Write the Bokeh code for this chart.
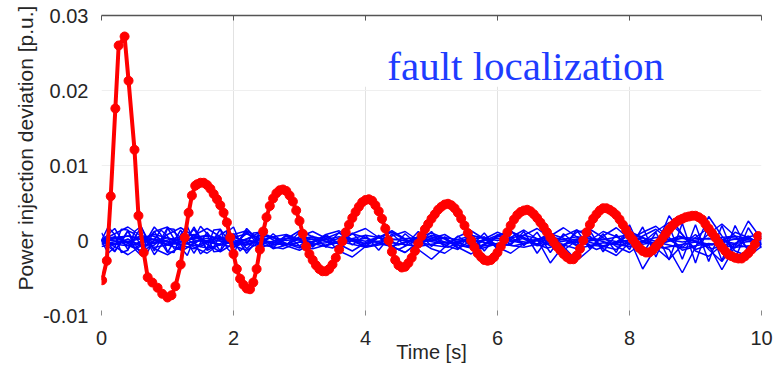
import numpy as np
from bokeh.plotting import figure
from bokeh.models import Range1d, FixedTicker, LinearAxis, Label, BoxAnnotation
from bokeh.embed import file_html
from bokeh.resources import INLINE

# ---- red trace: deviation at the faulted bus ----
# first swing, irregular sample times
red_time_start = [0.01, 0.08, 0.14, 0.21, 0.26, 0.35, 0.41, 0.50, 0.56, 0.64, 0.70,
                  0.77, 0.85, 0.92, 1.00, 1.06, 1.12, 1.20, 1.26, 1.32, 1.37, 1.42]
red_dev_start = [-0.0053, -0.0027, 0.0059, 0.0176, 0.0260, 0.0272, 0.0213, 0.0121,
                 0.0033, -0.0016, -0.0049, -0.0056, -0.0063, -0.0071, -0.0076,
                 -0.0073, -0.0061, -0.0032, 0.0004, 0.0037, 0.0060, 0.0073]
# remaining oscillation, sampled every 0.05 s from 1.45 s
red_step = 0.05
red_t0 = 1.45
red_dev_tail = [
    0.0075, 0.0077, 0.0077, 0.0074, 0.0069, 0.0062, 0.0055, 0.0047, 0.0037, 0.0024,
    0.0004, -0.0018, -0.0038, -0.0051, -0.0059, -0.0064, -0.0065, -0.0056, -0.0038, -0.0012,
    0.0012, 0.0031, 0.0046, 0.0056, 0.0063, 0.0067, 0.0068, 0.0066, 0.0060, 0.0052,
    0.0040, 0.0026, 0.0009, -0.0008, -0.0018, -0.0026, -0.0033, -0.0038, -0.0041, -0.0041,
    -0.0038, -0.0032, -0.0023, -0.0012, -0.0001, 0.0011, 0.0021, 0.0030, 0.0038, 0.0045,
    0.0051, 0.0054, 0.0055, 0.0053, 0.0047, 0.0039, 0.0029, 0.0016, 0.0000, -0.0015,
    -0.0026, -0.0033, -0.0036, -0.0035, -0.0030, -0.0023, -0.0014, -0.0004, 0.0006, 0.0015,
    0.0022, 0.0029, 0.0035, 0.0041, 0.0045, 0.0048, 0.0049, 0.0047, 0.0043, 0.0037,
    0.0029, 0.0020, 0.0010, 0.0000, -0.0009, -0.0017, -0.0022, -0.0026, -0.0027, -0.0026,
    -0.0022, -0.0016, -0.0008, 0.0001, 0.0011, 0.0020, 0.0028, 0.0034, 0.0038, 0.0040,
    0.0041, 0.0039, 0.0035, 0.0030, 0.0024, 0.0018, 0.0011, 0.0004, -0.0002, -0.0008,
    -0.0013, -0.0018, -0.0022, -0.0025, -0.0025, -0.0020, -0.0011, 0.0000, 0.0011, 0.0021,
    0.0029, 0.0035, 0.0040, 0.0043, 0.0043, 0.0041, 0.0038, 0.0034, 0.0028, 0.0021,
    0.0014, 0.0007, 0.0001, -0.0005, -0.0010, -0.0014, -0.0016, -0.0016, -0.0013, -0.0008,
    -0.0003, 0.0003, 0.0009, 0.0015, 0.0020, 0.0024, 0.0027, 0.0029, 0.0031, 0.0032,
    0.0033, 0.0033, 0.0031, 0.0028, 0.0022, 0.0016, 0.0010, 0.0004, -0.0003, -0.0009,
    -0.0014, -0.0019, -0.0021, -0.0023, -0.0024, -0.0024, -0.0021, -0.0017, -0.0012, -0.0005,
    0.0006]

# ---- blue traces: deviations at the other buses ----
# full-length traces, evenly sampled over 0..10 s
blue_a = [0.0, 0.0016, -0.0012, 0.0018, -0.0014, 0.0017, -0.0013, 0.0018, -0.0012,
          0.0015, -0.0010, 0.0012, -0.0008, 0.0009, -0.0006, 0.0011, -0.0009, 0.0008,
          -0.0005, 0.0010, -0.0008, 0.0007, -0.0011, 0.0009, -0.0006, 0.0012, -0.0009,
          0.0006, -0.0008, 0.0010, -0.0012, 0.0014, -0.0007, 0.0011, -0.0016, 0.0009,
          -0.0006, 0.0013, -0.0015, 0.0008, -0.0012, 0.0018, -0.0022, 0.0019, -0.0025,
          0.0021, -0.0028, 0.0020, -0.0024, 0.0017, -0.0010]
blue_b = [0.0, -0.0015, 0.0013, -0.0019, 0.0012, -0.0016, 0.0014, -0.0017, 0.0011,
          -0.0014, 0.0009, -0.0011, 0.0007, -0.0010, 0.0008, -0.0007, 0.0006, -0.0009,
          0.0011, -0.0006, 0.0007, -0.0013, 0.0009, -0.0007, 0.0012, -0.0008, 0.0005,
          -0.0011, 0.0009, -0.0014, 0.0008, -0.0006, 0.0012, -0.0017, 0.0007, -0.0009,
          0.0014, -0.0011, 0.0009, -0.0016, 0.0021, -0.0018, 0.0011, -0.0026, 0.0023,
          -0.0030, 0.0022, -0.0027, 0.0020, -0.0015, 0.0006]
blue_c = [0.0002, 0.0006, -0.0004, 0.0005, -0.0003, 0.0004, -0.0005, 0.0003, -0.0002,
          0.0005, -0.0004, 0.0002, -0.0003, 0.0004, -0.0002, 0.0003, -0.0004, 0.0005,
          -0.0003, 0.0002, -0.0005, 0.0004, -0.0002, 0.0003, -0.0004, 0.0001]
blue_d = [-0.0003, -0.0007, 0.0002, -0.0006, 0.0003, -0.0005, 0.0001, -0.0006, 0.0002,
          -0.0004, 0.0003, -0.0007, 0.0002, -0.0005, 0.0001, -0.0006, 0.0003, -0.0004,
          0.0002, -0.0007, 0.0001, -0.0005, 0.0003, -0.0006, 0.0002, -0.0004]
blue_e = [0.0001, -0.0002, 0.0008, -0.0001, 0.0006, -0.0003, 0.0007, 0.0, 0.0005,
          -0.0002, 0.0007, 0.0001, 0.0004, -0.0003, 0.0006, 0.0, 0.0007, -0.0002,
          0.0005, 0.0001, 0.0008, -0.0001, 0.0004, 0.0002, 0.0006, -0.0001]
blue_f = [-0.0008, -0.0001, -0.0009, -0.0003, -0.0010, -0.0002, -0.0008, -0.0004,
          -0.0011, -0.0001, -0.0009, -0.0003, -0.0008, -0.0002, -0.0010, -0.0004,
          -0.0009, -0.0001, -0.0011, -0.0003, -0.0008, -0.0002, -0.0010, -0.0004,
          -0.0009, -0.0006]
blue_g = [0.0, 0.0004, -0.0006, 0.0007, -0.0002, 0.0003, -0.0008, 0.0005, 0.0001,
          -0.0004, 0.0006, -0.0007, 0.0002, 0.0004, -0.0005, 0.0003, -0.0001, 0.0006,
          -0.0006, 0.0002, 0.0005, -0.0004, 0.0001, -0.0007, 0.0006, 0.0, -0.0003,
          0.0005, -0.0006, 0.0003, 0.0001, -0.0005, 0.0007, -0.0002, -0.0004, 0.0006,
          -0.0001, -0.0006, 0.0004, 0.0002, -0.0003]
blue_h = [-0.0005, -0.0001, -0.0010, 0.0002, -0.0006, -0.0012, 0.0001, -0.0004,
          -0.0009, 0.0, -0.0007, -0.0011, -0.0002, -0.0005, -0.0010, 0.0001, -0.0008,
          -0.0003, -0.0012, -0.0001, -0.0006, -0.0009, 0.0, -0.0011, -0.0004, -0.0007,
          -0.0002, -0.0010, -0.0005, -0.0001, -0.0012, -0.0003, -0.0008, 0.0, -0.0010,
          -0.0006, -0.0002, -0.0011, -0.0004, -0.0008, -0.0005]
blue_i = [0.0, 0.0009, 0.0018, 0.0006, -0.0011, -0.0019, -0.0008, 0.0007, 0.0016,
          0.0005, -0.0006, 0.0002, 0.0011, 0.0004, -0.0007, -0.0013, -0.0003, 0.0008,
          0.0013, 0.0001, -0.0009, -0.0004, 0.0006, 0.0012, 0.0, -0.0011, -0.0017,
          -0.0005, 0.0007, 0.0003, -0.0006, 0.0004, 0.0014, 0.0002, -0.0030, -0.0007,
          0.0011, 0.0015, 0.0004, -0.0008, -0.0016, -0.0003, 0.0012, 0.0024, 0.0008,
          -0.0014, -0.0021, -0.0006, 0.0011, 0.0004, -0.0006]
blue_j = [0.0, -0.0008, -0.0019, -0.0007, 0.0012, 0.0018, 0.0004, -0.0009, -0.0017,
          -0.0004, 0.0008, 0.0013, 0.0002, -0.0011, -0.0006, 0.0005, 0.0012, 0.0003,
          -0.0014, -0.0022, -0.0008, 0.0004, 0.0011, 0.0001, -0.0012, -0.0025, -0.0009,
          0.0005, 0.0013, 0.0002, -0.0010, -0.0004, 0.0007, 0.0016, 0.0003, -0.0008,
          -0.0027, -0.0012, 0.0006, 0.0017, 0.0002, -0.0038, -0.0009, 0.0033, 0.0008,
          -0.0012, -0.0006, -0.0039, -0.0008, 0.0026, 0.0002]
blue_k = [0.0, 0.0005, -0.0004, -0.0014, -0.0006, 0.0008, 0.0017, 0.0006, -0.0005,
          -0.0015, -0.0004, 0.0009, 0.0003, -0.0006, 0.0002, 0.0013, 0.0005, -0.0007,
          -0.0002, 0.0009, 0.0016, 0.0004, -0.0008, -0.0016, -0.0003, 0.0007, 0.0002,
          -0.0009, -0.0018, -0.0006, 0.0005, 0.0012, 0.0004, -0.0005, 0.0006, 0.0017,
          0.0005, -0.0006, -0.0008, -0.0002, 0.0012, 0.0004, -0.0006, -0.0012, -0.0043,
          -0.0009, 0.0032, 0.0006, -0.0014, -0.0021, -0.0008]
blue_l = [0.0, 0.0004, -0.0003, 0.0007, 0.0001, -0.0005, 0.0003, 0.0008, -0.0002,
          -0.0006, 0.0004, 0.0009, 0.0, -0.0004, 0.0006, 0.0002, -0.0007, 0.0003,
          0.0010, 0.0001, -0.0005, 0.0004, 0.0013, 0.0002, -0.0006, 0.0003, 0.0008,
          -0.0003, -0.0008, 0.0002, 0.0011, 0.0004, -0.0005, 0.0001, 0.0009, 0.0003,
          -0.0007, 0.0, 0.0012, 0.0005, -0.0004, 0.0006, 0.0015, 0.0001, -0.0009,
          0.0004, 0.0017, 0.0002, -0.0010, 0.0005, 0.0008]
blue_m = [0.0, -0.0005, 0.0002, -0.0008, -0.0003, 0.0004, -0.0006, -0.0011, 0.0,
          0.0003, -0.0007, -0.0013, -0.0002, 0.0005, -0.0004, -0.0010, -0.0001, 0.0006,
          -0.0005, -0.0014, -0.0003, 0.0004, -0.0008, -0.0016, -0.0002, 0.0003, -0.0006,
          -0.0012, 0.0001, 0.0005, -0.0009, -0.0017, -0.0004, 0.0002, -0.0007, -0.0013,
          0.0, 0.0006, -0.0011, -0.0020, -0.0003, 0.0004, -0.0010, -0.0025, -0.0006,
          0.0008, -0.0012, -0.0028, -0.0004, 0.0006, -0.0009]
blue_n = [0.0, 0.0002, 0.0006, 0.0003, -0.0002, -0.0005, -0.0001, 0.0004, 0.0007,
          0.0002, -0.0004, -0.0006, 0.0, 0.0005, 0.0008, 0.0001, -0.0005, -0.0003,
          0.0003, 0.0009, 0.0004, -0.0004, -0.0008, -0.0002, 0.0005, 0.0010, 0.0003,
          -0.0006, -0.0009, 0.0, 0.0007, 0.0012, 0.0002, -0.0007, -0.0004, 0.0006,
          0.0014, 0.0005, -0.0008, -0.0012, 0.0001, 0.0011, 0.0019, 0.0004, -0.0013,
          -0.0008, 0.0009, 0.0022, 0.0006, -0.0011, -0.0004]
# early swings (0..2.5 s, every 0.1 s)
blue_early_1 = [0.0, 0.0018, 0.0008, -0.0016, -0.0013, 0.0012, 0.0019, -0.0002, -0.0019,
                -0.0007, 0.0016, 0.0015, -0.0009, -0.0020, 0.0002, 0.0019, 0.0009,
                -0.0015, -0.0014, 0.0011, 0.0018, -0.0003, -0.0017, -0.0006, 0.0013,
                0.0008]
blue_early_2 = [0.0, -0.0017, -0.0009, 0.0015, 0.0014, -0.0011, -0.0020, 0.0003, 0.0018,
                0.0008, -0.0015, -0.0016, 0.0008, 0.0019, -0.0001, -0.0018, -0.0010,
                0.0014, 0.0015, -0.0010, -0.0019, 0.0002, 0.0016, 0.0007, -0.0012,
                -0.0006]
blue_early_3 = [0.0010, -0.0004, -0.0014, -0.0002, 0.0013, 0.0009, -0.0008, -0.0015,
                0.0001, 0.0014, 0.0006, -0.0011, -0.0012, 0.0005, 0.0015, 0.0002,
                -0.0013, -0.0009, 0.0008, 0.0013, -0.0001, -0.0014, -0.0005, 0.0010,
                0.0011, -0.0003]

blue_full = [blue_a, blue_b, blue_c, blue_d, blue_e, blue_f, blue_g, blue_h,
             blue_i, blue_j, blue_k, blue_l, blue_m, blue_n]
blue_early = [blue_early_1, blue_early_2, blue_early_3]
blue_early_end = 2.5

x_ticks = [0, 2, 4, 6, 8, 10]
y_ticks = [-0.01, 0, 0.01, 0.02, 0.03]
y_tick_labels = ["-0.01", "0", "0.01", "0.02", "0.03"]

TEXT = "#262626"
FONT = "Liberation Sans"
NBSP = "\u00a0"

p = figure(width=782, height=367, output_backend="svg", toolbar_location=None,
           x_range=Range1d(0, 10), y_range=Range1d(-0.01, 0.03),
           min_border_left=101, min_border_right=21,
           min_border_top=15, min_border_bottom=52)
p.outline_line_color = None
p.background_fill_color = "white"
p.border_fill_color = "white"

# grid
p.xgrid.ticker = FixedTicker(ticks=x_ticks)
p.ygrid.ticker = FixedTicker(ticks=y_ticks)
p.xgrid.grid_line_color = "#e2e2e2"
p.ygrid.grid_line_color = "#efefef"

# bottom axis
xa = p.xaxis[0]
xa.ticker = FixedTicker(ticks=x_ticks)
xa.axis_line_color = None
xa.major_tick_in = 5
xa.major_tick_out = 0
xa.major_tick_line_color = "#8a8a8a"
xa.minor_tick_line_color = None
xa.major_label_standoff = 15
xa.major_label_text_font = FONT
xa.major_label_text_font_size = "20px"
xa.major_label_text_color = TEXT
xa.axis_label = "Time [s]"
xa.axis_label_text_font = FONT
xa.axis_label_text_font_size = "20px"
xa.axis_label_text_font_style = "normal"
xa.axis_label_text_color = TEXT
xa.axis_label_standoff = -7

# left axis
ya = p.yaxis[0]
ya.ticker = FixedTicker(ticks=y_ticks)
ya.major_label_overrides = {t: s for t, s in zip(y_ticks, y_tick_labels)}
ya.axis_line_color = None
ya.major_tick_line_color = None
ya.minor_tick_line_color = None
ya.major_label_standoff = 7
ya.major_label_text_font = FONT
ya.major_label_text_font_size = "20px"
ya.major_label_text_color = TEXT
ya.axis_label = NBSP * 6 + "Power injection deviation [p.u.]"
ya.axis_label_text_font = FONT
ya.axis_label_text_font_size = "21px"
ya.axis_label_text_font_style = "normal"
ya.axis_label_text_color = TEXT
ya.axis_label_standoff = 3

# top box edge with inward ticks
top = LinearAxis(ticker=FixedTicker(ticks=x_ticks))
top.axis_line_color = "#555555"
top.axis_line_width = 1.5
top.major_tick_in = 5
top.major_tick_out = 0
top.major_tick_line_color = "#555555"
top.minor_tick_line_color = None
top.major_label_text_font_size = "0px"
top.major_label_standoff = 0
p.add_layout(top, "above")

# white patch behind the annotation text
p.add_layout(BoxAnnotation(left=3.75, right=9.95, bottom=0.0205, top=0.0293,
                           fill_color="white", fill_alpha=1.0, line_color=None,
                           level="underlay"))

# blue traces
for vals in blue_full:
    p.line(np.linspace(0, 10, len(vals)), vals, line_color="#0000ff", line_width=1.5)
for vals in blue_early:
    p.line(np.linspace(0, blue_early_end, len(vals)), vals, line_color="#0000ff",
           line_width=1.5)

# red trace with markers
red_time = list(red_time_start) + list(red_t0 + red_step * np.arange(len(red_dev_tail)))
red_dev = list(red_dev_start) + list(red_dev_tail)
p.line(red_time, red_dev, line_color="#ff0000", line_width=4)
p.scatter(red_time, red_dev, size=9, fill_color="#ff0000", line_color="#ff0000")

p.add_layout(Label(x=4.33, y=0.0233, text="fault localization",
                   text_font="Liberation Serif", text_font_size="41px",
                   text_color="#1e3cff", text_baseline="alphabetic",
                   text_align="left"))

open("out.html", "w").write(file_html(p, INLINE))
